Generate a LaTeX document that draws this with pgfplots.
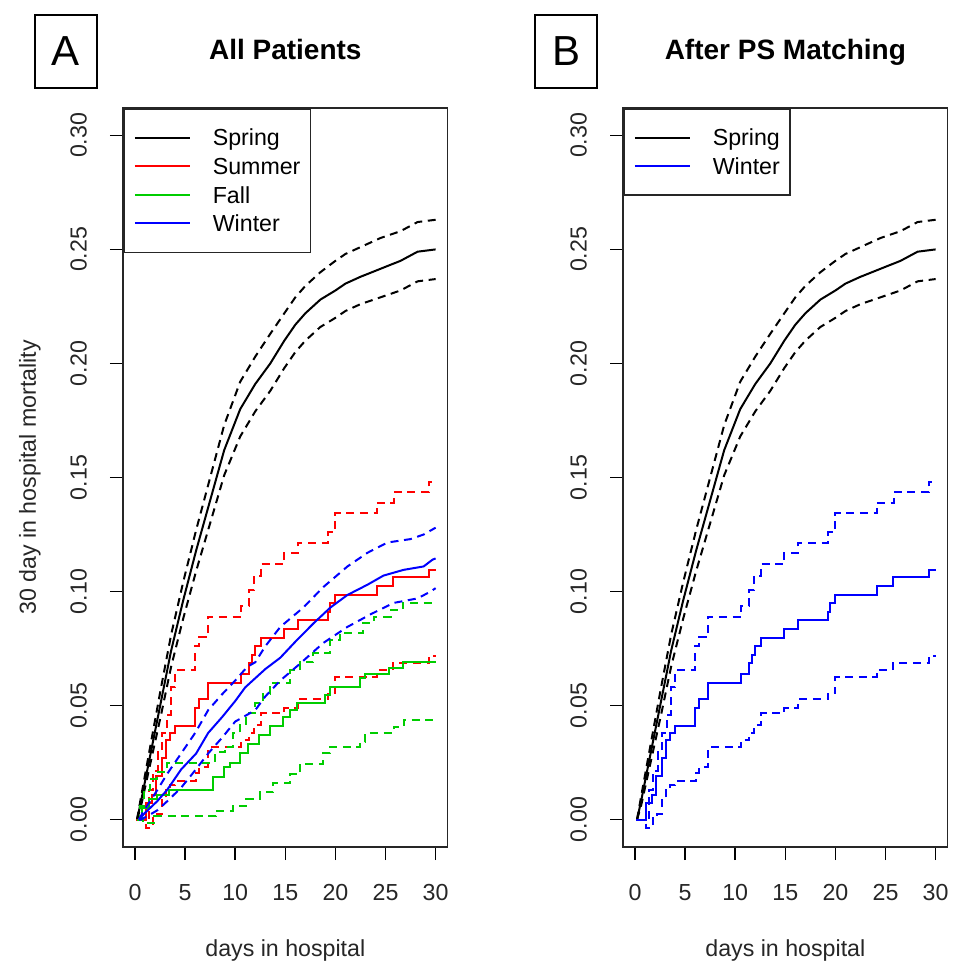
\documentclass[border=0pt]{standalone}
\usepackage{fontspec}
\setmainfont{Liberation Sans}
\usepackage{pgfplots}
\usepackage{pgfplotstable}
\pgfplotsset{compat=1.18}

\definecolor{rgreen}{RGB}{0,205,0}
\definecolor{rblue}{RGB}{0,0,255}
\definecolor{rred}{RGB}{255,0,0}

% Spring (all patients and matched)
\pgfplotstableread{
d v
0.2 0
0.6 0.008
1.6 0.030
2.6 0.052
3.6 0.074
4.8 0.096
6.1 0.118
7.5 0.140
8.9 0.162
10.5 0.180
12 0.191
13.5 0.200
14.9 0.210
16 0.217
17 0.222
18.5 0.228
20 0.232
21 0.235
22.5 0.238
24.5 0.2415
26.5 0.245
28.2 0.249
30 0.250
}\sprmid
\pgfplotstableread{
d v
0.2 0
0.6 0.010
1.6 0.034
2.6 0.058
3.6 0.081
4.8 0.104
6.1 0.127
7.5 0.150
8.9 0.173
10.5 0.192
12 0.203
13.5 0.213
14.9 0.222
16 0.229
17 0.234
18.5 0.240
20 0.245
21 0.248
22.5 0.251
24.5 0.255
26.5 0.258
28.2 0.262
30 0.263
}\sprup
\pgfplotstableread{
d v
0.2 0
0.6 0.006
1.6 0.026
2.6 0.046
3.6 0.067
4.8 0.088
6.1 0.109
7.5 0.130
8.9 0.151
10.5 0.168
12 0.179
13.5 0.188
14.9 0.198
16 0.205
17 0.210
18.5 0.216
20 0.220
21 0.223
22.5 0.226
24.5 0.229
26.5 0.232
28.2 0.236
30 0.237
}\sprlo

% Summer (A) = Winter (B)
\pgfplotstableread{
d v
0.13 0
1.1 0.0075
1.7 0.011
2.1 0.019
2.7 0.027
3.1 0.035
3.5 0.038
4.0 0.041
6.0 0.049
6.4 0.053
7.3 0.060
10.6 0.064
11.4 0.0685
11.7 0.072
12.0 0.076
12.6 0.0795
14.9 0.0835
16.3 0.0875
19.3 0.091
19.5 0.095
20.0 0.0985
24.1 0.1025
25.7 0.1065
29.3 0.1095
30 0.1095
}\summid
\pgfplotstableread{
d v
0.13 0
1.4 0.013
1.8 0.0215
2.3 0.0295
2.7 0.038
3.2 0.046
3.6 0.058
4.0 0.0655
6.0 0.076
6.4 0.080
7.3 0.089
10.6 0.0937
11.4 0.1007
11.9 0.107
12.6 0.112
14.9 0.117
16.3 0.1215
19.3 0.126
20.0 0.1345
24.1 0.139
25.8 0.1435
29.3 0.148
30 0.148
}\sumup
\pgfplotstableread{
d v
0.13 0
1.1 -0.0035
1.8 0.0005
2.2 0.0025
2.7 0.0085
3.1 0.013
3.5 0.015
4.0 0.017
6.1 0.0205
6.4 0.023
7.3 0.0317
10.6 0.035
11.4 0.038
11.9 0.0415
12.6 0.0466
14.9 0.049
16.3 0.0527
19.3 0.0556
20.0 0.0624
24.1 0.0655
25.7 0.0685
29.3 0.0717
30 0.0717
}\sumlo

% Fall
\pgfplotstableread{
d v
0.2 0
0.7 0.005
1.4 0.009
2.2 0.011
3.4 0.013
7.8 0.0185
8.9 0.023
9.5 0.025
10.5 0.029
11.3 0.033
12.4 0.037
13.5 0.041
14.8 0.045
15.5 0.048
16.2 0.051
19.0 0.0545
19.5 0.058
22.5 0.062
23 0.064
25.3 0.0665
26.7 0.069
30 0.069
}\falmid
\pgfplotstableread{
d v
0.2 0
0.5 0.006
0.9 0.013
1.5 0.018
2.2 0.021
3.2 0.025
8.0 0.0295
9.0 0.032
9.8 0.038
10.5 0.042
11.1 0.0466
12 0.051
12.8 0.055
13.5 0.060
15.5 0.0655
16.5 0.069
17.8 0.073
19.5 0.0787
20.5 0.082
22.8 0.086
23.8 0.089
25.5 0.092
26.7 0.095
30 0.095
}\falup
\pgfplotstableread{
d v
0.2 0
0.8 -0.0015
1.9 0.0015
8.1 0.004
9.8 0.006
11.1 0.009
12.5 0.012
13.8 0.016
15.5 0.020
16.5 0.0246
18.8 0.029
19.5 0.032
22.5 0.034
23 0.038
25.8 0.0405
26.8 0.0436
30 0.0436
}\fallo

% Winter (A)
\pgfplotstableread{
d v
0.4 0
1 0.003
2.2 0.008
3.2 0.013
4.6 0.022
6.1 0.029
7.3 0.038
8.7 0.045
10 0.052
11 0.058
12 0.062
13 0.066
14.5 0.071
16 0.078
17.8 0.086
19.5 0.093
21.2 0.0985
23.2 0.103
24.8 0.107
26.8 0.1095
28.8 0.111
29.7 0.114
30 0.1145
}\winmid
\pgfplotstableread{
d v
0.4 0
0.7 0.0026
2.2 0.0128
3.2 0.020
4.6 0.029
6.0 0.038
7.3 0.048
8.7 0.055
10 0.061
11.2 0.067
12 0.069
13 0.076
14.5 0.0845
16.8 0.093
18.8 0.102
21.2 0.111
23.2 0.117
25.2 0.1215
27.5 0.123
28.8 0.125
30 0.128
}\winup
\pgfplotstableread{
d v
0.4 0
0.6 0
2.2 0.004
3.2 0.008
4.6 0.014
6.0 0.0216
7.3 0.029
8.7 0.036
10 0.043
12 0.048
13 0.054
14.5 0.061
16.5 0.0685
18.8 0.0775
21.2 0.0845
23.5 0.090
25.8 0.095
28.2 0.097
29.5 0.100
30 0.1015
}\winlo

\pgfplotsset{
  kmaxis/.style={
    scale only axis, width=162pt, height=369.5pt,
    xmin=-1.2, xmax=31.2, ymin=-0.012, ymax=0.312,
    xtick={0,5,10,15,20,25,30},
    ytick={0,0.05,0.1,0.15,0.2,0.25,0.3},
    xtick pos=bottom, ytick pos=left,
    tick align=outside, major tick length=6.5pt,
    tick style={black, line width=0.8pt},
    axis line style={black!85, line width=0.8pt},
    /pgf/number format/assume math mode=true,
    ticklabel style={font=\fontsize{11.6}{14}\selectfont, text=black!85},
    yticklabel style={rotate=90, anchor=south,
      /pgf/number format/fixed, /pgf/number format/fixed zerofill,
      /pgf/number format/precision=2},
    xticklabel shift=8.5pt, yticklabel shift=8pt,
    label style={font=\fontsize{11.6}{14}\selectfont, text=black!85},
    xlabel={days in hospital},
    xlabel style={at={(axis description cs:0.5,-0.1475)}, anchor=base},
    title style={at={(axis description cs:0.5,1.0487)}, anchor=base,
      font=\bfseries\fontsize{14}{17}\selectfont},
    legend style={at={(0,1)}, anchor=north west, draw=black!85,
      line width=0.8pt, fill=white, inner xsep=5pt, inner ysep=7.3pt,
      font=\fontsize{11.6}{14}\selectfont, row sep=0pt, column sep=11pt,
      nodes={inner sep=0pt, text height=11.3pt, text depth=3pt},
      cells={anchor=west}},
    legend image code/.code={
      \path (0pt,0pt) -- (27.5pt,0pt);
      \draw[#1, solid, line width=0.9pt] (6.5pt,0pt) -- (27.5pt,0pt);},
  },
  mid/.style={line width=1pt},
  ci/.style={line width=1pt, dash pattern=on 4pt off 2.8pt, forget plot},
}

\begin{document}
\begin{tikzpicture}
\path[use as bounding box] (0,0) rectangle (478pt,486.5pt);

% panel A
\begin{axis}[kmaxis, at={(61.5pt,63pt)}, anchor=south west,
  title={All Patients},
  ylabel={30 day in hospital mortality},
  ylabel style={at={(axis description cs:-0.2685,0.5)}, anchor=base}]
\addplot[black, mid] table[x=d, y=v]{\sprmid};
\addlegendentry{Spring}
\addplot[black, ci] table[x=d, y=v]{\sprup};
\addplot[black, ci] table[x=d, y=v]{\sprlo};
\addplot[rred, mid, const plot] table[x=d, y=v]{\summid};
\addlegendentry{Summer}
\addplot[rred, ci, const plot] table[x=d, y=v]{\sumup};
\addplot[rred, ci, const plot] table[x=d, y=v]{\sumlo};
\addplot[rgreen, mid, const plot] table[x=d, y=v]{\falmid};
\addlegendentry{Fall}
\addplot[rgreen, ci, const plot] table[x=d, y=v]{\falup};
\addplot[rgreen, ci, const plot] table[x=d, y=v]{\fallo};
\addplot[rblue, mid] table[x=d, y=v]{\winmid};
\addlegendentry{Winter}
\addplot[rblue, ci] table[x=d, y=v]{\winup};
\addplot[rblue, ci] table[x=d, y=v]{\winlo};
\end{axis}

% panel B
\begin{axis}[kmaxis, at={(311.5pt,63pt)}, anchor=south west,
  title={After PS Matching}]
\addplot[black, mid] table[x=d, y=v]{\sprmid};
\addlegendentry{Spring}
\addplot[black, ci] table[x=d, y=v]{\sprup};
\addplot[black, ci] table[x=d, y=v]{\sprlo};
\addplot[rblue, mid, const plot] table[x=d, y=v]{\summid};
\addlegendentry{Winter}
\addplot[rblue, ci, const plot] table[x=d, y=v]{\sumup};
\addplot[rblue, ci, const plot] table[x=d, y=v]{\sumlo};
\end{axis}

\node[draw=black, line width=1pt, minimum width=31pt, minimum height=36.5pt,
  inner sep=0pt, font=\fontsize{21}{25}\selectfont] at (33pt,460.75pt) {A};
\node[draw=black, line width=1pt, minimum width=31pt, minimum height=36.5pt,
  inner sep=0pt, font=\fontsize{21}{25}\selectfont] at (283pt,460.75pt) {B};
\end{tikzpicture}
\end{document}
